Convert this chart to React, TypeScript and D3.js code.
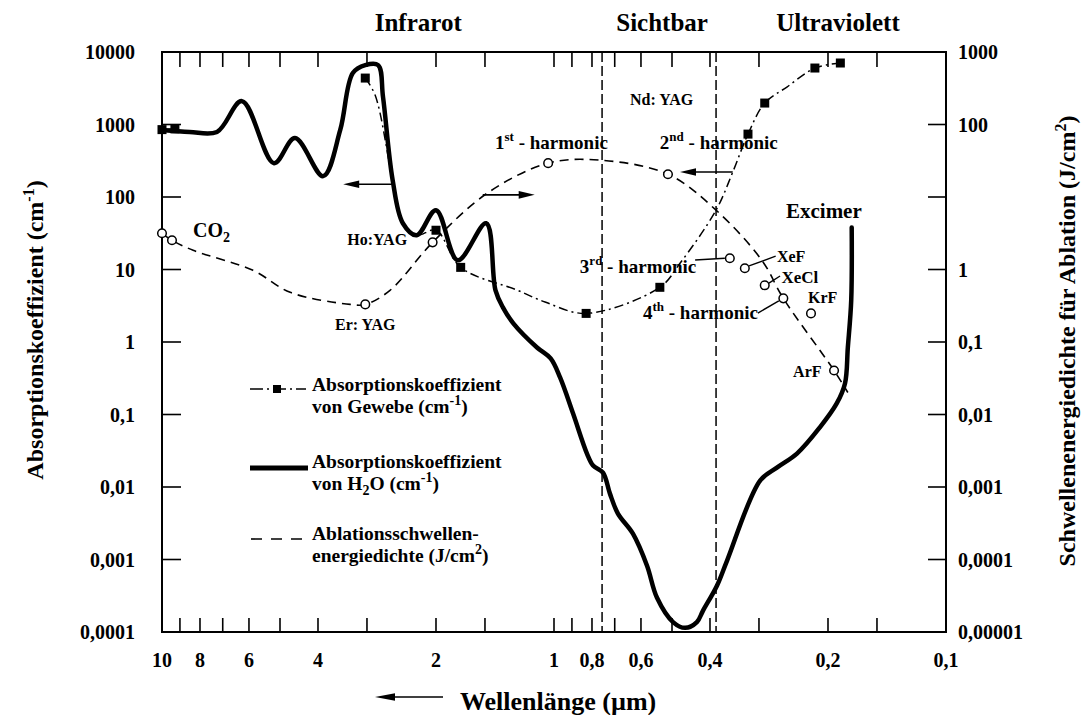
import React from 'react';
import * as d3 from 'd3';

// ---- axes ----
const wavelengthDomain: [number, number] = [10, 0.1]; // µm, decreasing to the right
const absorptionDomain: [number, number] = [1e-4, 1e4]; // cm^-1 (left)
const fluenceDomain: [number, number] = [1e-5, 1e3]; // J/cm^2 (right)

const xTicks = [10, 9, 8, 7, 6, 5, 4, 3, 2, 1.5, 1, 0.9, 0.8, 0.7, 0.6, 0.5, 0.4, 0.3, 0.2, 0.15];
const xTickLabels: [number, string][] = [
  [10, '10'], [8, '8'], [6, '6'], [4, '4'], [2, '2'], [1, '1'],
  [0.8, '0,8'], [0.6, '0,6'], [0.4, '0,4'], [0.2, '0,2'], [0.1, '0,1'],
];
const leftTicks: [number, string][] = [
  [1e4, '10000'], [1e3, '1000'], [100, '100'], [10, '10'], [1, '1'],
  [0.1, '0,1'], [0.01, '0,01'], [0.001, '0,001'], [0.0001, '0,0001'],
];
const rightTicks: [number, string][] = [
  [1e3, '1000'], [100, '100'], [10, ''], [1, '1'], [0.1, '0,1'],
  [0.01, '0,01'], [0.001, '0,001'], [0.0001, '0,0001'], [0.00001, '0,00001'],
];

// ---- series ----
// absorption coefficient of water (cm^-1) vs wavelength (µm)
const waterH2O: [number, number][] = [
  [10, 840], [8.5, 790], [7.24, 790], [6.25, 2100], [5.18, 293], [4.58, 650],
  [3.88, 194], [3.51, 840], [3.26, 5130], [3.03, 6600], [2.81, 6600], [2.73, 2390],
  [2.58, 171], [2.43, 43.5], [2.24, 29.7], [2.0, 65.8], [1.76, 13.4], [1.49, 43.5],
  [1.41, 5.16], [1.35, 3.0], [1.27, 1.81], [1.105, 0.84], [1.02, 0.593], [0.965, 0.324],
  [0.894, 0.103], [0.824, 0.0289], [0.795, 0.0198], [0.75, 0.0158], [0.72, 0.0081],
  [0.687, 0.0043], [0.629, 0.00227], [0.579, 0.00082], [0.546, 0.000296],
  [0.497, 0.000137], [0.463, 0.000114], [0.432, 0.000137], [0.417, 0.000196],
  [0.384, 0.000435], [0.362, 0.00096], [0.298, 0.01225], [0.27, 0.0185], [0.24, 0.0289],
  [0.21, 0.066], [0.19, 0.142], [0.181, 0.268], [0.178, 0.84], [0.1745, 3.76], [0.174, 38],
];

// absorption coefficient of tissue (cm^-1): measured points and connecting trace
const tissueFarIR: [number, number][] = [[10, 850], [9.27, 870]];
const tissueTrace: [number, number][] = [
  [3.03, 4370], [2.86, 2550], [2.58, 171], [2.43, 43.5], [2.24, 29.7], [2.0, 34.8],
  [1.73, 10.7], [1.243, 5.21], [1.054, 3.56], [0.828, 2.48], [0.537, 5.68],
  [0.477, 12.2], [0.386, 65.8], [0.35, 220], [0.32, 737], [0.29, 1976],
  [0.2546, 3289], [0.216, 6010], [0.186, 7050],
];
const tissuePoints: [number, number][] = [
  [10, 850], [9.27, 870], [3.03, 4370], [2.0, 34.8], [1.73, 10.7], [0.828, 2.48],
  [0.537, 5.68], [0.32, 737], [0.29, 1976], [0.216, 6010], [0.186, 7050],
];

// ablation threshold fluence (J/cm^2): trend curve and laser lines
const ablationTrend: [number, number][] = [
  [10, 3.16], [9.43, 2.53], [8.33, 1.84], [5.86, 0.975], [4.71, 0.484], [3.31, 0.33],
  [3.03, 0.33], [2.62, 0.516], [2.04, 2.37], [1.48, 11.3], [1.035, 29.3], [0.763, 32.2],
  [0.512, 20.6], [0.386, 6.58], [0.295, 1.34], [0.26, 0.4], [0.193, 0.0405], [0.178, 0.0201],
];
const ablationLasers: [number, number][] = [
  [10, 3.16], [9.43, 2.53], [3.03, 0.33], [2.04, 2.37], [1.035, 29.3], [0.512, 20.6],
  [0.356, 1.43], [0.326, 1.04], [0.29, 0.605], [0.26, 0.4], [0.221, 0.248], [0.193, 0.0405],
];

// visible band boundaries (µm)
const visibleBounds = [0.754, 0.386];

const SERIF = '"Liberation Serif", "Times New Roman", serif';

function Arrow({ x1, x2, y, head = 16 }: { x1: number; x2: number; y: number; head?: number }) {
  // arrow from x1 to x2, tip at x2
  const dir = x2 > x1 ? 1 : -1;
  return (
    <g>
      <line x1={x1} y1={y} x2={x2 - dir * head * 0.6} y2={y} stroke="#000" strokeWidth={1.6} />
      <polygon
        points={`${x2},${y} ${x2 - dir * head},${y - 3.8} ${x2 - dir * head},${y + 3.8}`}
        fill="#000"
      />
    </g>
  );
}

export default function App() {
  const x = d3.scaleLog().domain(wavelengthDomain).range([162, 946]);
  const yL = d3.scaleLog().domain(absorptionDomain).range([632, 52]);
  const yR = d3.scaleLog().domain(fluenceDomain).range([632, 52]);

  const curve = d3.curveCatmullRom.alpha(0.5);
  const lineL = d3.line<[number, number]>().x((d) => x(d[0])).y((d) => yL(d[1])).curve(curve);
  const lineR = d3.line<[number, number]>().x((d) => x(d[0])).y((d) => yR(d[1])).curve(curve);

  const left = 162, right = 946, top = 52, bottom = 632;

  // annotation anchors in (µm, cm^-1)
  const at = (wl: number, v: number) => [x(wl), yL(v)];
  const [co2X, co2Y] = at(8.33, 28.1);
  const [erX, erY] = at(3.03, 1.47);
  const [hoX, hoY] = at(2.37, 21.8);
  const [ndX, ndY] = at(0.64, 1858);
  const [h1X, h1Y] = at(1.414, 459);
  const [h2X, h2Y] = at(0.537, 459);
  const [h3X, h3Y] = at(0.859, 8.95);
  const [h4X, h4Y] = at(0.593, 2.07);
  const [xefX, xefY] = at(0.27, 12.7);
  const [xeclX, xeclY] = at(0.263, 6.5);
  const [krfX, krfY] = at(0.225, 3.45);
  const [arfX, arfY] = at(0.2455, 0.329);
  const [excX, excY] = at(0.256, 51.3);

  const labelStyle = { fontFamily: SERIF, fontWeight: 700 as const, fill: '#000' };

  return (
    <svg
      width={1082}
      height={715}
      viewBox="0 0 1082 715"
      style={{ position: 'absolute', left: 0, top: 0, background: '#fff' }}
    >
      <rect x={0} y={0} width={1082} height={715} fill="#fff" />

      {/* region headings */}
      <g {...labelStyle} fontSize={25} textAnchor="middle">
        <text x={x(2.22)} y={31}>Infrarot</text>
        <text x={x(0.53)} y={31}>Sichtbar</text>
        <text x={x(0.1886)} y={31}>Ultraviolett</text>
      </g>

      {/* visible band boundaries */}
      {visibleBounds.map((wl) => (
        <line key={wl} x1={x(wl)} x2={x(wl)} y1={top} y2={bottom} stroke="#000" strokeWidth={1.5} strokeDasharray="10,4" />
      ))}

      {/* frame */}
      <rect x={left} y={top} width={right - left} height={bottom - top} fill="none" stroke="#000" strokeWidth={2} />

      {/* x ticks top and bottom */}
      {xTicks.map((t) => (
        <g key={t}>
          <line x1={x(t)} x2={x(t)} y1={top} y2={top + 15} stroke="#000" strokeWidth={1.6} />
          <line x1={x(t)} x2={x(t)} y1={bottom} y2={bottom - 14} stroke="#000" strokeWidth={1.6} />
        </g>
      ))}
      <g {...labelStyle} fontSize={20} textAnchor="middle">
        {xTickLabels.map(([v, t]) => (
          <text key={t} x={x(v)} y={667}>{t}</text>
        ))}
      </g>

      {/* left axis */}
      {leftTicks.map(([v]) => (
        <line key={v} x1={left} x2={left + 19} y1={yL(v)} y2={yL(v)} stroke="#000" strokeWidth={1.6} />
      ))}
      <g {...labelStyle} fontSize={20} textAnchor="end">
        {leftTicks.map(([v, t]) => (
          <text key={t} x={135} y={yL(v) + 7}>{t}</text>
        ))}
      </g>

      {/* right axis */}
      {rightTicks.map(([v]) => (
        <line key={v} x1={right - 18} x2={right} y1={yR(v)} y2={yR(v)} stroke="#000" strokeWidth={1.6} />
      ))}
      <g {...labelStyle} fontSize={20} textAnchor="start">
        {rightTicks.map(([v, t]) => (
          <text key={v} x={958} y={yR(v) + 7}>{t}</text>
        ))}
      </g>

      {/* axis titles */}
      <text {...labelStyle} fontSize={24} textAnchor="middle" transform="translate(35,330) rotate(-90)" dy="0.35em">
        Absorptionskoeffizient (cm<tspan fontSize={16} dy={-9}>-1</tspan><tspan dy={9}>)</tspan>
      </text>
      <text {...labelStyle} fontSize={24} textAnchor="middle" transform="translate(1067,341) rotate(-90)" dy="0.35em">
        Schwellenenergiedichte für Ablation (J/cm<tspan fontSize={16} dy={-9}>2</tspan><tspan dy={9}>)</tspan>
      </text>
      <text {...labelStyle} fontSize={26} x={460} y={710}>Wellenlänge (µm)</text>
      <Arrow x1={443} x2={375} y={697} head={20} />

      {/* ablation threshold trend */}
      <path d={lineR(ablationTrend) ?? ''} fill="none" stroke="#000" strokeWidth={1.6} strokeDasharray="9,6" />

      {/* tissue absorption */}
      <path d={lineL(tissueFarIR) ?? ''} fill="none" stroke="#000" strokeWidth={1.5} strokeDasharray="9,4,2,4" />
      <path d={lineL(tissueTrace) ?? ''} fill="none" stroke="#000" strokeWidth={1.5} strokeDasharray="9,4,2,4" />

      {/* water absorption */}
      <path d={lineL(waterH2O) ?? ''} fill="none" stroke="#000" strokeWidth={4.5} strokeLinejoin="round" strokeLinecap="round" />

      {/* tissue measurement points */}
      {tissuePoints.map(([wl, v]) => (
        <rect key={`${wl}-${v}`} x={x(wl) - 4.5} y={yL(v) - 4.5} width={9} height={9} fill="#000" />
      ))}

      {/* laser threshold points */}
      {ablationLasers.map(([wl, j]) => (
        <circle key={`${wl}-${j}`} cx={x(wl)} cy={yR(j)} r={4.3} fill="#fff" stroke="#000" strokeWidth={1.5} />
      ))}

      {/* axis-assignment arrows */}
      <Arrow x1={x(2.58)} x2={x(3.45)} y={yL(150)} />
      <Arrow x1={x(1.52)} x2={x(1.12)} y={yL(107)} />
      <Arrow x1={x(0.35)} x2={x(0.477)} y={yL(221)} />

      {/* leader lines to laser labels */}
      <g stroke="#000" strokeWidth={1.4} fill="none">
        <line x1={x(0.4365)} y1={yL(13.5)} x2={x(0.356) - 5} y2={yR(1.43)} />
        <line x1={x(0.302)} y1={yL(2.51)} x2={x(0.267)} y2={yL(3.68)} />
        <line x1={x(0.318)} y1={yL(11.2)} x2={x(0.272)} y2={yL(15.3)} />
        <line x1={x(0.283)} y1={yL(6.5)} x2={x(0.265)} y2={yL(8.13)} />
      </g>

      {/* laser labels */}
      <g {...labelStyle}>
        <text x={co2X} y={co2Y} fontSize={20}>CO<tspan fontSize={14} dy={5}>2</tspan></text>
        <text x={erX} y={erY} fontSize={16} textAnchor="middle">Er: YAG</text>
        <text x={hoX} y={hoY} fontSize={16} textAnchor="end">Ho:YAG</text>
        <text x={ndX} y={ndY} fontSize={16}>Nd: YAG</text>
        <text x={h1X} y={h1Y} fontSize={19}>1<tspan fontSize={13} dy={-8}>st</tspan><tspan dy={8}> - harmonic</tspan></text>
        <text x={h2X} y={h2Y} fontSize={19}>2<tspan fontSize={13} dy={-8}>nd</tspan><tspan dy={8}> - harmonic</tspan></text>
        <text x={h3X} y={h3Y} fontSize={19}>3<tspan fontSize={13} dy={-8}>rd</tspan><tspan dy={8}> - harmonic</tspan></text>
        <text x={h4X} y={h4Y} fontSize={19}>4<tspan fontSize={13} dy={-8}>th</tspan><tspan dy={8}> - harmonic</tspan></text>
        <text x={xefX} y={xefY} fontSize={16}>XeF</text>
        <text x={xeclX} y={xeclY} fontSize={17}>XeCl</text>
        <text x={krfX} y={krfY} fontSize={16}>KrF</text>
        <text x={arfX} y={arfY} fontSize={16}>ArF</text>
        <text x={excX} y={excY} fontSize={21}>Excimer</text>
      </g>

      {/* legend */}
      <g>
        <line x1={250} x2={306} y1={389} y2={389} stroke="#000" strokeWidth={1.5} strokeDasharray="13,4,2,4" />
        <rect x={273} y={385} width={8} height={8} fill="#000" />
        <line x1={250} x2={308} y1={468} y2={468} stroke="#000" strokeWidth={5} />
        <line x1={251} x2={306} y1={539} y2={539} stroke="#000" strokeWidth={1.6} strokeDasharray="11,9" />
        <g {...labelStyle} fontSize={19.5}>
          <text x={312} y={391}>Absorptionskoeffizient</text>
          <text x={312} y={413}>von Gewebe (cm<tspan fontSize={14} dy={-8}>-1</tspan><tspan dy={8}>)</tspan></text>
          <text x={312} y={468}>Absorptionskoeffizient</text>
          <text x={312} y={490}>von H<tspan fontSize={14} dy={5}>2</tspan><tspan dy={-5}>O (cm</tspan><tspan fontSize={14} dy={-8}>-1</tspan><tspan dy={8}>)</tspan></text>
          <text x={312} y={540}>Ablationsschwellen-</text>
          <text x={312} y={562}>energiedichte (J/cm<tspan fontSize={14} dy={-8}>2</tspan><tspan dy={8}>)</tspan></text>
        </g>
      </g>
    </svg>
  );
}
